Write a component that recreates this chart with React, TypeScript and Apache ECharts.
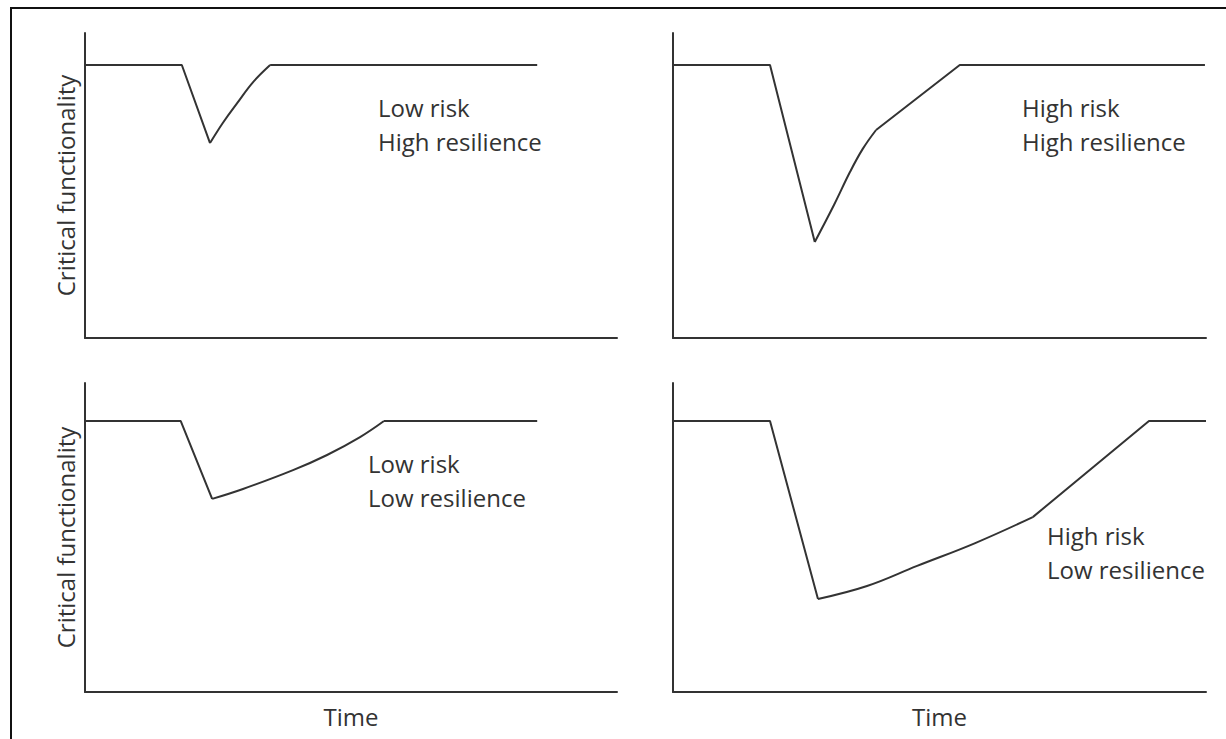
import React, { useEffect, useRef } from "react";
import * as echarts from "echarts";

// Panel 1: Low risk / High resilience (top-left)
const timeLowRiskHighRes = [0, 18.2, 23.5, 25.9, 28.6, 31.6, 34.8, 85.0];
const funcLowRiskHighRes = [89.5, 89.5, 63.9, 70.5, 77.0, 83.9, 89.5, 89.5];

// Panel 2: High risk / High resilience (top-right)
const timeHighRiskHighRes = [0, 18.2, 26.6, 30.2, 33.2, 35.6, 38.1, 53.8, 99.8];
const funcHighRiskHighRes = [89.5, 89.5, 31.5, 43.6, 54.4, 62.0, 68.2, 89.5, 89.5];

// Panel 3: Low risk / Low resilience (bottom-left)
const timeLowRiskLowRes = [0, 18.0, 23.9, 29.7, 39.1, 45.5, 51.7, 56.2, 85.0];
const funcLowRiskLowRes = [87.7, 87.7, 62.5, 65.7, 71.8, 76.7, 82.5, 87.7, 87.7];

// Panel 4: High risk / Low resilience (bottom-right)
const timeHighRiskLowRes = [0, 18.2, 27.2, 36.4, 45.8, 56.7, 67.5, 89.3, 100];
const funcHighRiskLowRes = [87.7, 87.7, 30.1, 34.3, 40.8, 48.2, 56.6, 87.7, 87.7];

// index range [first, last] of the smoothly curved recovery part of each panel
const recoveryCurveRange = [
  [2, 6],
  [2, 6],
  [2, 7],
  [2, 6],
];

const riskLabels = ["Low risk", "High risk", "Low risk", "High risk"];
const resilienceLabels = ["High resilience", "High resilience", "Low resilience", "Low resilience"];
const yAxisName = "Critical functionality";
const xAxisName = "Time";

const FONT = "'Open Sans', Lato, sans-serif";
const INK = "#333333";

export default function App() {
  const ref = useRef<HTMLDivElement>(null);

  useEffect(() => {
    document.body.style.margin = "0";
    if (!ref.current) return;
    const chart = echarts.init(ref.current, undefined, { renderer: "svg" });

    const panels = [
      { t: timeLowRiskHighRes, f: funcLowRiskHighRes },
      { t: timeHighRiskHighRes, f: funcHighRiskHighRes },
      { t: timeLowRiskLowRes, f: funcLowRiskLowRes },
      { t: timeHighRiskLowRes, f: funcHighRiskLowRes },
    ];

    const grids = [
      { left: 85, top: 33, width: 532, height: 305 },
      { left: 673, top: 33, width: 533, height: 305 },
      { left: 85, top: 383, width: 532, height: 309 },
      { left: 673, top: 383, width: 533, height: 309 },
    ];

    const axisLine = { show: true, lineStyle: { color: INK, width: 2 } };

    const xAxis = grids.map((_, i) => ({
      type: "value" as const,
      gridIndex: i,
      min: 0,
      max: 100,
      axisLine,
      axisTick: { show: false },
      axisLabel: { show: false },
      splitLine: { show: false },
      name: i >= 2 ? xAxisName : "",
      nameLocation: "middle" as const,
      nameGap: 12,
      nameTextStyle: { fontFamily: FONT, fontSize: 24, color: INK, verticalAlign: "top" as const },
    }));

    const yAxis = grids.map((_, i) => ({
      type: "value" as const,
      gridIndex: i,
      min: 0,
      max: 100,
      axisLine,
      axisTick: { show: false },
      axisLabel: { show: false },
      splitLine: { show: false },
      name: i % 2 === 0 ? yAxisName : "",
      nameLocation: "middle" as const,
      nameRotate: 90,
      nameGap: 8,
      nameTextStyle: { fontFamily: FONT, fontSize: 24, color: INK },
    }));

    const lineStyle = { color: INK, width: 2 };
    const series: any[] = [];
    panels.forEach((p, i) => {
      const pts = p.t.map((t, k) => [t, p.f[k]]);
      const [a, b] = recoveryCurveRange[i];
      series.push({
        type: "line",
        xAxisIndex: i,
        yAxisIndex: i,
        data: pts.slice(0, a + 1),
        symbol: "none",
        lineStyle,
      });
      series.push({
        type: "line",
        xAxisIndex: i,
        yAxisIndex: i,
        data: pts.slice(a, b + 1),
        symbol: "none",
        smooth: 0.4,
        lineStyle,
      });
      series.push({
        type: "line",
        xAxisIndex: i,
        yAxisIndex: i,
        data: pts.slice(b),
        symbol: "none",
        lineStyle,
      });
    });

    const labelPos = [
      { x: 378, y: 90 },
      { x: 1022, y: 90 },
      { x: 368, y: 446 },
      { x: 1047, y: 518 },
    ];

    const graphic: any[] = [
      {
        type: "rect",
        shape: { x: 11, y: 8, width: 1300, height: 800 },
        style: { fill: "none", stroke: "#111", lineWidth: 2 },
        silent: true,
      },
      ...labelPos.map((pos, i) => ({
        type: "text",
        x: pos.x,
        y: pos.y,
        style: {
          text: riskLabels[i] + "\n" + resilienceLabels[i],
          fontFamily: FONT,
          fontSize: 24,
          lineHeight: 34,
          fill: INK,
        },
      })),
    ];

    chart.setOption({
      animation: false,
      backgroundColor: "#ffffff",
      grid: grids.map((g) => ({ ...g, containLabel: false })),
      xAxis,
      yAxis,
      series,
      graphic,
    });

    return () => chart.dispose();
  }, []);

  return <div ref={ref} style={{ width: 1226, height: 739 }} />;
}
